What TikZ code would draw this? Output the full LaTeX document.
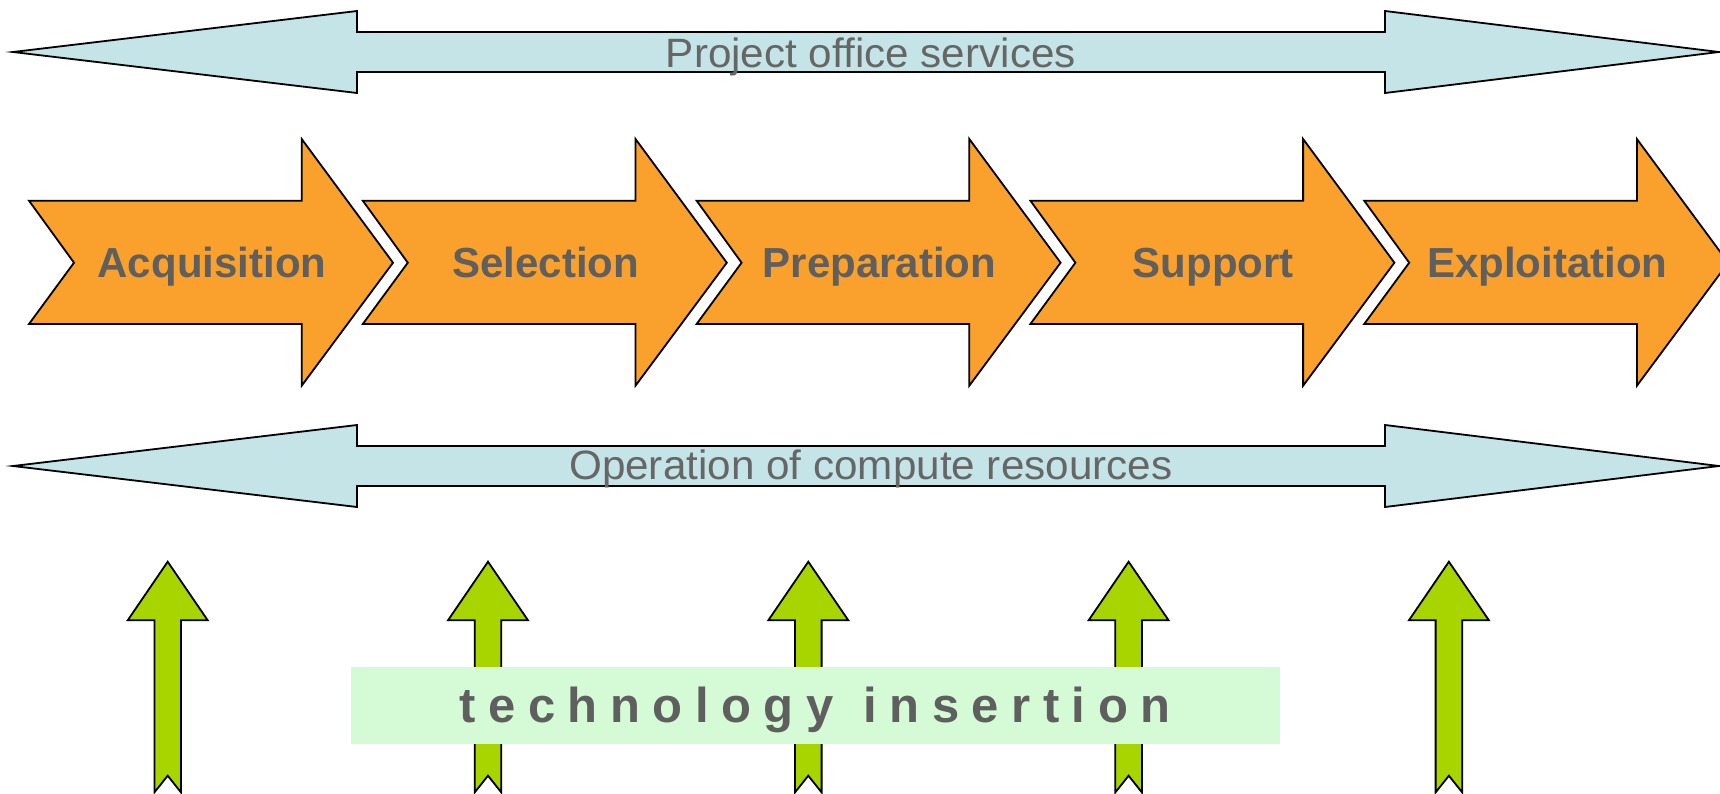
\documentclass[tikz,border=0pt]{standalone}
\usepackage{fontspec}
\usepackage{graphicx}
\setmainfont{Liberation Sans}
\definecolor{bandblue}{HTML}{C5E4E7}
\definecolor{steporange}{HTML}{F9A12C}
\definecolor{liftgreen}{HTML}{A8D400}
\definecolor{techbg}{HTML}{D4FAD6}
\definecolor{labelgray}{HTML}{5F5F5F}
\definecolor{bandgray}{HTML}{666666}
\tikzset{
  band/.style={fill=bandblue, draw=black, line width=1.8pt, line join=miter},
  procarrow/.style={fill=steporange, draw=black, line width=1.8pt, line join=miter},
  liftarrow/.style={fill=liftgreen, draw=black, line width=1.8pt, line join=miter},
  techbox/.style={fill=techbg, draw=none},
  bandlabel/.style={anchor=base, inner sep=0pt, text=bandgray, font=\fontsize{41}{48}\selectfont},
  steplabel/.style={anchor=base, inner sep=0pt, text=labelgray, font=\fontsize{42}{50}\selectfont\bfseries},
  techlabel/.style={anchor=base, inner sep=0pt, text=labelgray, font=\fontsize{49}{58}\selectfont\bfseries}
}
\newcommand{\tg}{\hspace{12.5pt}}
\begin{document}
\begin{tikzpicture}[x=1pt,y=-1pt]
\useasboundingbox (0,0) rectangle (1720,793);
\clip (0,0) rectangle (1720,793);
% top band
\draw[band] (13,52) -- (357,11) -- (357,32) -- (1385,32) -- (1385,11) -- (1719,52)
  -- (1385,93) -- (1385,72) -- (357,72) -- (357,93) -- cycle;
\node[bandlabel] (pos) at (870.8,67) {\scalebox{1.03}[1]{Project office services}};
% process arrows
\foreach \i/\t in {0/Acquisition,1/Selection,2/Preparation,3/Support,4/Exploitation} {
  \pgfmathsetmacro{\xo}{29+333.8*\i}
  \draw[procarrow] (\xo,200.7) -- (\xo+272.7,200.7) -- (\xo+272.7,139) -- (\xo+364,262.7)
    -- (\xo+272.7,385.7) -- (\xo+272.7,324) -- (\xo,324) -- (\xo+45,262.7) -- cycle;
  \node[steplabel] (step\i) at (\xo+183,277.7) {\t};
}
% bottom band
\draw[band] (13,466) -- (357,425) -- (357,446) -- (1385,446) -- (1385,425) -- (1719,466)
  -- (1385,507) -- (1385,486) -- (357,486) -- (357,507) -- cycle;
\node[bandlabel] (ocr) at (870.8,479) {\scalebox{1.03}[1]{Operation of compute resources}};
% green arrows
\foreach \i in {0,...,4} {
  \pgfmathsetmacro{\cx}{167.7+320.3*\i}
  \draw[liftarrow] (\cx,561.7) -- (\cx+40,620.3) -- (\cx+13.3,620.3) -- (\cx+13.3,792.4)
    -- (\cx,775.7) -- (\cx-13.3,792.4) -- (\cx-13.3,620.3) -- (\cx-40,620.3) -- cycle;
}
% technology insertion box
\fill[techbox] (351,667) rectangle (1280,743.7);
\node[techlabel] (tech) at (815,722) {t\tg e\tg c\tg h\tg n\tg o\tg l\tg o\tg g\tg y\tg\hspace{4pt} i\tg n\tg s\tg e\tg r\tg t\tg i\tg o\tg n};
\end{tikzpicture}
\end{document}
